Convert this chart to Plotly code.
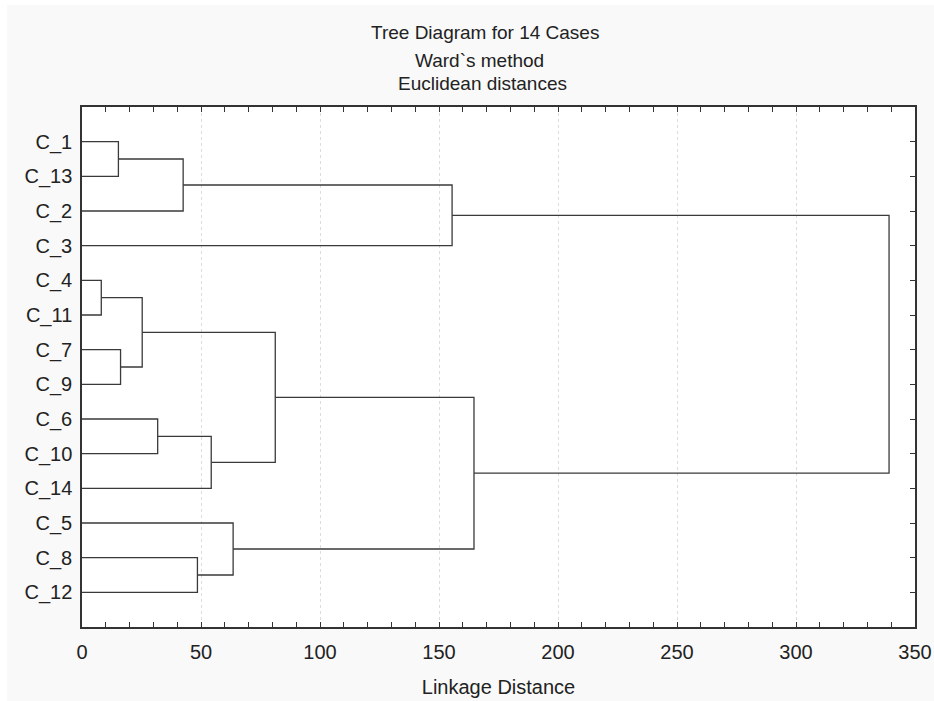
import plotly.graph_objects as go

# Leaf order along the vertical axis (top to bottom)
cases = ["C_1", "C_13", "C_2", "C_3", "C_4", "C_11", "C_7", "C_9",
         "C_6", "C_10", "C_14", "C_5", "C_8", "C_12"]

# Agglomeration steps: (left cluster, right cluster, linkage distance)
merge_left = [["C_4"], ["C_1"], ["C_7"], ["C_4", "C_11"], ["C_6"],
              ["C_1", "C_13"], ["C_8"], ["C_6", "C_10"], ["C_5"],
              ["C_4", "C_11", "C_7", "C_9"], ["C_1", "C_13", "C_2"],
              ["C_4", "C_11", "C_7", "C_9", "C_6", "C_10", "C_14"],
              ["C_1", "C_13", "C_2", "C_3"]]
merge_right = [["C_11"], ["C_13"], ["C_9"], ["C_7", "C_9"], ["C_10"],
               ["C_2"], ["C_12"], ["C_14"], ["C_8", "C_12"],
               ["C_6", "C_10", "C_14"], ["C_3"],
               ["C_5", "C_8", "C_12"],
               ["C_4", "C_11", "C_7", "C_9", "C_6", "C_10", "C_14",
                "C_5", "C_8", "C_12"]]
merge_dist = [8.1, 15.3, 16.2, 25.3, 31.8, 42.5, 48.5, 54.3, 63.5,
              81.2, 155.5, 164.7, 339.1]

x_ticks = [0, 50, 100, 150, 200, 250, 300, 350]

# Each cluster keeps its vertical anchor and the distance at which it was formed
pos = {(c,): (i + 1, 0.0) for i, c in enumerate(cases)}
xs, ys = [], []
for left, right, d in zip(merge_left, merge_right, merge_dist):
    yl, hl = pos[tuple(left)]
    yr, hr = pos[tuple(right)]
    xs += [hl, d, d, hr, None]
    ys += [yl, yl, yr, yr, None]
    pos[tuple(left + right)] = ((yl + yr) / 2, d)

font_family = "Liberation Sans, Arial, sans-serif"
W, H = 934, 701
ml, mr, mt, mb = 82, 19, 107, 74
pw, ph = W - ml - mr, H - mt - mb

fig = go.Figure()
fig.add_trace(go.Scatter(x=xs, y=ys, mode="lines",
                         line=dict(color="#3a3a3a", width=1.3),
                         hoverinfo="skip", showlegend=False))
# invisible trace to carry the right-hand tick axis
fig.add_trace(go.Scatter(x=[None], y=[None], yaxis="y2", showlegend=False))


def px_to_paper(xp, yp):
    return (xp - ml) / pw, 1 - (yp - mt) / ph


titles = ["Tree Diagram for 14 Cases", "Ward`s method", "Euclidean distances"]
title_px = [(485, 32), (479, 60), (482, 84)]
for text, (xp, yp) in zip(titles, title_px):
    ax, ay = px_to_paper(xp, yp)
    fig.add_annotation(text=text, x=ax, y=ay, xref="paper", yref="paper",
                       showarrow=False, xanchor="center", yanchor="middle",
                       font=dict(family=font_family, size=19, color="#222"))

# thin white margins along the left and top edges of the grey panel
for (a, b), (c, d) in [((0, 0), (7, H)), ((0, 0), (W, 5))]:
    x0, y1 = px_to_paper(a, b)
    x1, y0 = px_to_paper(c, d)
    fig.add_shape(type="rect", xref="paper", yref="paper",
                  x0=x0, x1=x1, y0=y0, y1=y1,
                  fillcolor="white", line=dict(width=0), layer="below")

tick_font = dict(family=font_family, size=20, color="#222")
fig.update_layout(
    width=W, height=H,
    margin=dict(l=ml, r=mr, t=mt, b=mb, pad=0),
    paper_bgcolor="#f9f9f9", plot_bgcolor="white",
    font=dict(family=font_family, color="#222"),
    xaxis=dict(range=[0, 350], tickvals=x_ticks, ticks="inside", ticklen=5,
               tickcolor="#333", showline=True, linecolor="#333", linewidth=1.5,
               mirror="allticks", showgrid=True, gridcolor="#dcdcdc",
               griddash="dot", gridwidth=1, zeroline=False,
               minor=dict(dtick=10, ticks="inside", ticklen=3, tickcolor="#333",
                          showgrid=False),
               tickfont=tick_font, ticklabelstandoff=6, automargin=False,
               title=dict(text="Linkage Distance", font=tick_font, standoff=18)),
    yaxis=dict(range=[15, 0], tickvals=list(range(1, len(cases) + 1)),
               ticktext=cases, ticks="", showline=True, linecolor="#333",
               linewidth=1.5, mirror=True, showgrid=False, zeroline=False,
               tickfont=tick_font, ticklabelstandoff=4, automargin=False),
    yaxis2=dict(overlaying="y", side="right", matches="y",
                tickvals=list(range(1, len(cases) + 1)),
                ticks="inside", ticklen=5, tickcolor="#333",
                showticklabels=False, showgrid=False, zeroline=False,
                showline=False, automargin=False),
)

fig.write_html("out.html")
